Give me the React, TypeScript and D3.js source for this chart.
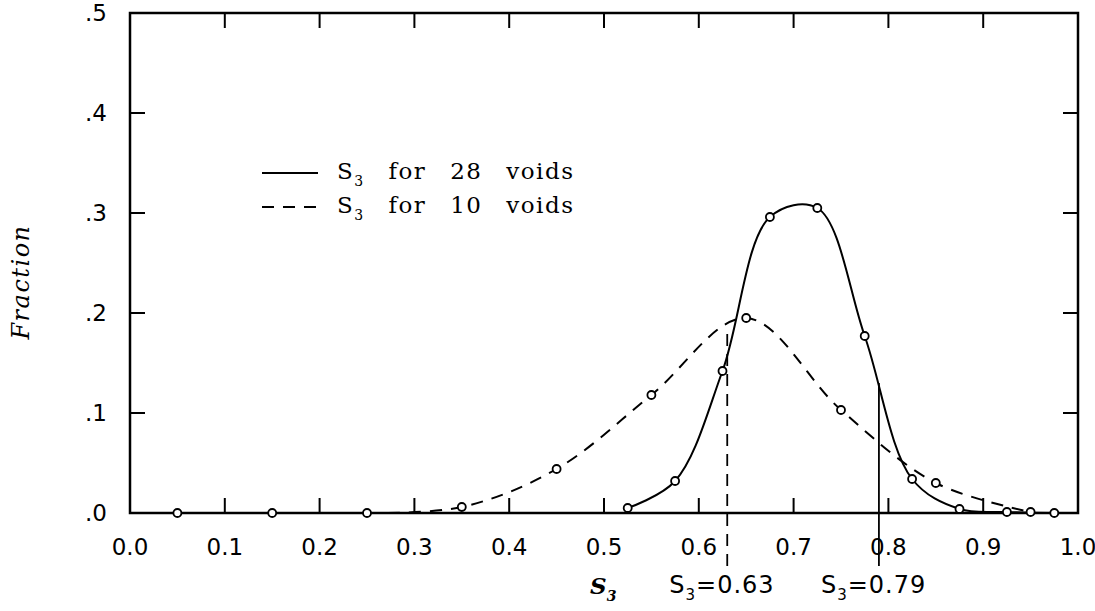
import React from "react";
import * as d3 from "d3";

const xTicks = [0.0, 0.1, 0.2, 0.3, 0.4, 0.5, 0.6, 0.7, 0.8, 0.9, 1.0];
const xTickLabels = ["0.0", "0.1", "0.2", "0.3", "0.4", "0.5", "0.6", "0.7", "0.8", "0.9", "1.0"];
const yTicks = [0, 0.1, 0.2, 0.3, 0.4, 0.5];
const yTickLabels = [".0", ".1", ".2", ".3", ".4", ".5"];

const s28X = [0.525, 0.575, 0.625, 0.675, 0.725, 0.775, 0.825, 0.875, 0.925, 0.975];
const s28Y = [0.005, 0.032, 0.142, 0.296, 0.305, 0.177, 0.034, 0.004, 0.001, 0.0];

const s10X = [0.05, 0.15, 0.25, 0.35, 0.45, 0.55, 0.65, 0.75, 0.85, 0.95];
const s10Y = [0.0, 0.0, 0.0, 0.006, 0.044, 0.118, 0.195, 0.103, 0.03, 0.001];

const markerX = [0.63, 0.79];
const markerTop = [0.185, 0.13];
const markerLabels = ["=0.63", "=0.79"];

const W = 1095;
const H = 611;
const left = 130;
const right = 1078;
const top = 13;
const bottom = 513;

export default function App() {
  const x = d3.scaleLinear().domain([0, 1]).range([left, right]);
  const y = d3.scaleLinear().domain([0, 0.5]).range([bottom, top]);

  const line = d3
    .line<[number, number]>()
    .x((d) => x(d[0]))
    .y((d) => y(d[1]))
    .curve(d3.curveCatmullRom.alpha(0.5));

  const s28 = s28X.map((v, i) => [v, s28Y[i]] as [number, number]);
  const s10 = s10X.map((v, i) => [v, s10Y[i]] as [number, number]);
  const s10Line = s10.slice(2);

  const tickLen = 15;
  const numFont = "'DejaVu Sans', sans-serif";
  const serif = "'DejaVu Serif', 'Liberation Serif', serif";

  return (
    <svg
      width={W}
      height={H}
      style={{ position: "absolute", left: 0, top: 0, background: "#fff" }}
    >
      <rect
        x={left}
        y={top}
        width={right - left}
        height={bottom - top}
        fill="none"
        stroke="#000"
        strokeWidth={2.5}
      />
      {xTicks.slice(1, -1).map((t) => (
        <g key={"xt" + t}>
          <line x1={x(t)} x2={x(t)} y1={bottom} y2={bottom - tickLen} stroke="#000" strokeWidth={2} />
          <line x1={x(t)} x2={x(t)} y1={top} y2={top + tickLen} stroke="#000" strokeWidth={2} />
        </g>
      ))}
      {xTicks.map((t, i) => (
        <text
          key={"xl" + t}
          x={x(t)}
          y={555}
          textAnchor="middle"
          fontFamily={numFont}
          fontSize={23}
          fill="#000"
        >
          {xTickLabels[i]}
        </text>
      ))}
      {yTicks.slice(1, -1).map((t) => (
        <g key={"yt" + t}>
          <line x1={left} x2={left + tickLen} y1={y(t)} y2={y(t)} stroke="#000" strokeWidth={2} />
          <line x1={right} x2={right - tickLen} y1={y(t)} y2={y(t)} stroke="#000" strokeWidth={2} />
        </g>
      ))}
      {yTicks.map((t, i) => (
        <text
          key={"yl" + t}
          x={107}
          y={y(t) + 8}
          textAnchor="end"
          fontFamily={numFont}
          fontSize={23}
          fill="#000"
        >
          {yTickLabels[i]}
        </text>
      ))}

      <text
        transform={`translate(29, 282) rotate(-90)`}
        textAnchor="middle"
        fontFamily={serif}
        fontStyle="italic"
        fontSize={24}
        letterSpacing={1.5}
        fill="#000"
      >
        Fraction
      </text>

      <text x={590} y={594} fontFamily={serif} fontStyle="italic" fontWeight="bold" fontSize={23} fill="#000">
        S
        <tspan fontSize={14} dy={7}>3</tspan>
      </text>

      <path d={line(s10Line) || ""} fill="none" stroke="#000" strokeWidth={2} strokeDasharray="12,9" />
      <path d={line(s28) || ""} fill="none" stroke="#000" strokeWidth={2} />

      {markerX.map((m, i) => (
        <line
          key={"m" + i}
          x1={x(m)}
          x2={x(m)}
          y1={bottom + 53}
          y2={y(markerTop[i])}
          stroke="#000"
          strokeWidth={1.8}
          strokeDasharray={i === 0 ? "12,8" : undefined}
        />
      ))}
      {markerX.map((m, i) => (
        <text
          key={"ml" + i}
          x={x(m) - 58}
          y={593}
          fontFamily={numFont}
          fontSize={24}
          letterSpacing={1}
          fill="#000"
        >
          S
          <tspan fontSize={15} dy={7}>3</tspan>
          <tspan dy={-7}>{markerLabels[i]}</tspan>
        </text>
      ))}

      {s10.map((d, i) => (
        <circle key={"p10" + i} cx={x(d[0])} cy={y(d[1])} r={4} fill="#fff" stroke="#000" strokeWidth={1.8} />
      ))}
      {s28.map((d, i) => (
        <circle key={"p28" + i} cx={x(d[0])} cy={y(d[1])} r={4} fill="#fff" stroke="#000" strokeWidth={1.8} />
      ))}

      <line x1={262} x2={318} y1={173} y2={173} stroke="#000" strokeWidth={2} />
      <line x1={262} x2={318} y1={207} y2={207} stroke="#000" strokeWidth={2} strokeDasharray="12,9" />
      <text x={337} y={179} fontFamily={serif} fontSize={23} letterSpacing={1.5} wordSpacing={15} fill="#000">
        S
        <tspan fontSize={14} dy={7}>3</tspan>
        <tspan dy={-7}>{" for 28 voids"}</tspan>
      </text>
      <text x={337} y={213} fontFamily={serif} fontSize={23} letterSpacing={1.5} wordSpacing={15} fill="#000">
        S
        <tspan fontSize={14} dy={7}>3</tspan>
        <tspan dy={-7}>{" for 10 voids"}</tspan>
      </text>
    </svg>
  );
}
